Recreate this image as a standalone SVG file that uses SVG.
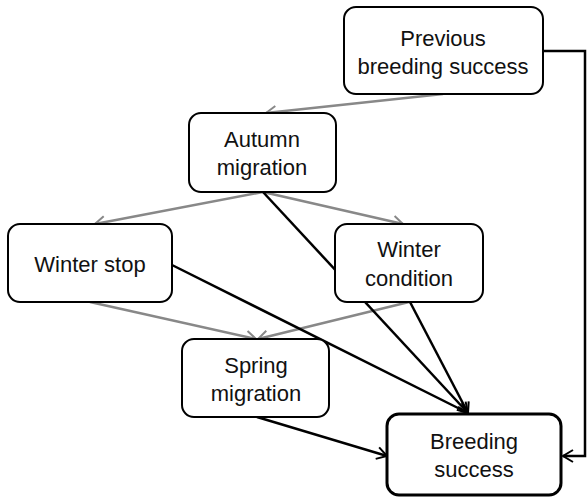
<svg xmlns="http://www.w3.org/2000/svg" width="587" height="499" viewBox="0 0 587 499">
<defs>
<style>
.node rect{fill:#fff;stroke:#000;stroke-width:2}
.node.main rect{stroke-width:3}
.node text{font-family:"Liberation Sans",Arial,sans-serif;font-size:22px;fill:#111;text-anchor:middle}
.gray{stroke:#888;stroke-width:2.5;fill:none;marker-end:url(#ag)}
.black{stroke:#000;stroke-width:2.5;fill:none;marker-end:url(#ab)}
</style>
<marker id="ag" viewBox="0 0 14 14" markerWidth="14" markerHeight="14" refX="12" refY="7" orient="auto" markerUnits="userSpaceOnUse">
<path d="M2,1 L12,7 L2,13" fill="none" stroke="#888" stroke-width="2"/>
</marker>
<marker id="ab" viewBox="0 0 14 14" markerWidth="14" markerHeight="14" refX="12" refY="7" orient="auto" markerUnits="userSpaceOnUse">
<path d="M2,1 L12,7 L2,13" fill="none" stroke="#000" stroke-width="2"/>
</marker>
</defs>
<rect width="587" height="499" fill="#fff"/>
<g id="connectors">
<line class="gray" x1="443" y1="94" x2="266" y2="113"/>
<line class="gray" x1="263" y1="192" x2="95" y2="224"/>
<line class="gray" x1="263" y1="192" x2="403" y2="224"/>
<line class="gray" x1="90" y1="302" x2="256" y2="339"/>
<line class="gray" x1="409" y1="302" x2="258" y2="339"/>
<line class="black" x1="263" y1="192" x2="468" y2="413"/>
<line class="black" x1="172" y1="265" x2="468" y2="413"/>
<line class="black" x1="410" y1="302" x2="468" y2="413"/>
<line class="black" x1="257" y1="417" x2="387" y2="456"/>
<path class="black" d="M543,51 H585 V456 H563"/>
</g>
<g id="previous" class="node">
<rect x="344" y="7" width="199" height="87" rx="12"/>
<text x="443" y="46">Previous</text>
<text x="443" y="74">breeding success</text>
</g>
<g id="autumn" class="node">
<rect x="189" y="113" width="147" height="79" rx="12"/>
<text x="262" y="147">Autumn</text>
<text x="262" y="175">migration</text>
</g>
<g id="winterstop" class="node">
<rect x="8" y="224" width="164" height="78" rx="12"/>
<text x="90" y="272">Winter stop</text>
</g>
<g id="wintercondition" class="node">
<rect x="335" y="224" width="148" height="78" rx="12"/>
<text x="409" y="257">Winter</text>
<text x="409" y="286">condition</text>
</g>
<g id="spring" class="node">
<rect x="182" y="339" width="147" height="78" rx="12"/>
<text x="256" y="373">Spring</text>
<text x="256" y="401">migration</text>
</g>
<g id="breeding" class="node main">
<rect x="387" y="414" width="174" height="81" rx="12"/>
<text x="474" y="449">Breeding</text>
<text x="474" y="477">success</text>
</g>
</svg>
